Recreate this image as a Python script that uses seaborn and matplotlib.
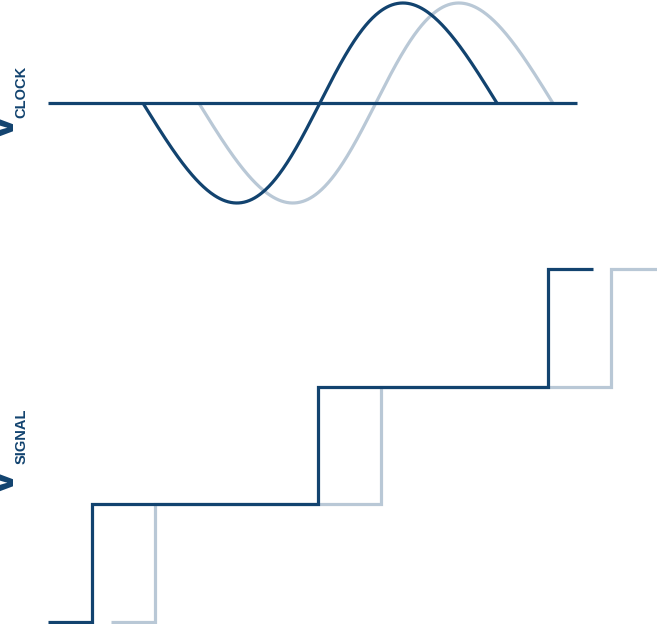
import numpy as np
import pandas as pd
import seaborn as sns
import matplotlib
matplotlib.use('Agg')
import matplotlib.pyplot as plt

# time in arbitrary units, one clock period = 10
clock_period = 10.0
clock_start = 2.68
clock_delay = 1.58
clock_amp = 1.0
clock_skew = 0.155          # troughs lean late, peaks lean early
baseline_span = [0.0, 14.95]

signal_t = [0.0, 1.24, 7.63, 14.12, 15.40]
signal_lvl = [0, 1, 2, 3, 3]
signal_delayed_t = [1.78, 3.02, 9.41, 15.90, 17.20]
signal_delayed_lvl = [0, 1, 2, 3, 3]

dark = '#12436f'
light = '#b9c8d6'

sns.set_theme(style='white')
plt.rcParams['font.family'] = ['Liberation Sans', 'DejaVu Sans']

W, H = 657, 624
fig = plt.figure(figsize=(W / 100, H / 100), dpi=100)

xlim = (-1.356, 17.203)

# clock sine waves
ax1 = fig.add_axes([0, 1 - 206 / H, 1, 206 / H])
tt = np.linspace(0, clock_period, 400)
ph = 2 * np.pi * tt / clock_period
one = tt + clock_skew * np.sin(ph)
clk = pd.DataFrame({
    't': np.concatenate([one + clock_start, one + clock_start + clock_delay]),
    'v': np.concatenate([-clock_amp * np.sin(ph)] * 2),
    'which': ['clk'] * len(tt) + ['clk_delayed'] * len(tt),
})
line_kw = dict(linewidth=2.3, solid_capstyle='butt', solid_joinstyle='miter',
               clip_on=False)
sns.lineplot(data=clk[clk.which == 'clk_delayed'], x='t', y='v', color=light,
             sort=False, estimator=None, ax=ax1, **line_kw)
sns.lineplot(data=clk[clk.which == 'clk'], x='t', y='v', color=dark,
             sort=False, estimator=None, ax=ax1, **line_kw)
sns.lineplot(x=baseline_span, y=[0, 0], color=dark, ax=ax1, **line_kw)
ax1.set_xlim(*xlim)
ax1.set_ylim(-1.03, 1.03)
ax1.axis('off')

# signal staircase
ax2 = fig.add_axes([0, 0, 1, 384 / H])
sns.lineplot(x=signal_delayed_t, y=signal_delayed_lvl, color=light,
             drawstyle='steps-post', sort=False, estimator=None, ax=ax2,
             **line_kw)
sns.lineplot(x=signal_t, y=signal_lvl, color=dark,
             drawstyle='steps-post', sort=False, estimator=None, ax=ax2,
             **line_kw)
lo = -2.3 / 117.6
ax2.set_xlim(*xlim)
ax2.set_ylim(lo, lo + 384 / 117.6)
ax2.axis('off')


def px(x, y):
    return x / W, 1 - y / H


def vlabel(sub, y_v, y_sub):
    fig.text(*px(14, y_v), 'V', rotation=90, rotation_mode='anchor',
             ha='left', va='baseline', fontsize=35, fontweight='bold',
             color=dark)
    fig.text(*px(25.5, y_sub), sub, rotation=90, rotation_mode='anchor',
             ha='left', va='baseline', fontsize=10.5, fontweight='bold',
             color=dark)


vlabel('CLOCK', 143, 118)
vlabel('SIGNAL', 498, 464)

fig.savefig('out.png', dpi=100)
